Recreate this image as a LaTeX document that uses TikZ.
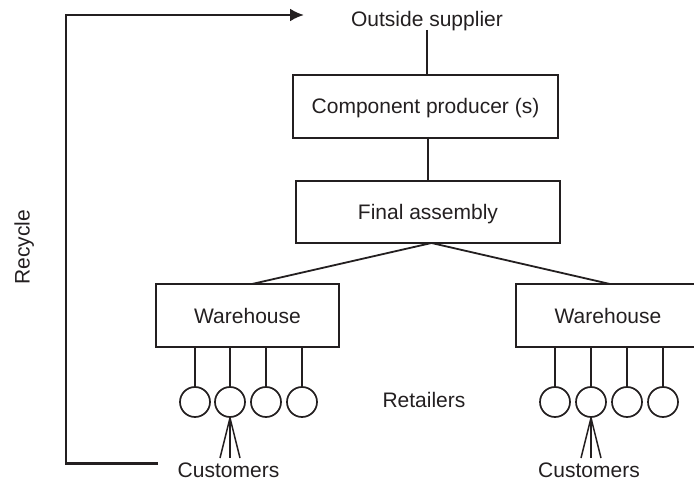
\documentclass[tikz,border=0pt]{standalone}
\usepackage{fontspec}
\setmainfont{Liberation Sans}
\usetikzlibrary{arrows.meta}
\definecolor{ink}{HTML}{231F20}
\begin{document}
\begin{tikzpicture}[x=1pt,y=-1pt,
  every node/.style={font=\fontsize{21}{25}\selectfont, text=ink, text height=15pt, text depth=0pt, inner sep=0pt},
  box/.style={draw=ink, line width=1.9pt, rectangle},
  conn/.style={draw=ink, line width=1.8pt},
  retail/.style={draw=ink, line width=1.7pt, circle, minimum size=30pt, text height=0pt},
  recy/.style={draw=ink, line width=2.5pt, -{Latex[length=14pt,width=13pt]}}
]
\useasboundingbox (0,0) rectangle (694,484);
\clip (0,0) rectangle (694,484);
\node (sup) at (427,19.5) {Outside supplier};
\node[box, minimum width=265pt, minimum height=63pt] (comp) at (425.5,106.5) {Component producer (s)};
\node[box, minimum width=264pt, minimum height=62pt] (fin) at (428,212) {Final assembly};
\node[box, minimum width=183pt, minimum height=63pt] (wh1) at (247.5,315.5) {Warehouse};
\node[box, minimum width=184pt, minimum height=63pt] (wh2) at (608,315.5) {Warehouse};
\node (ret) at (424,400) {Retailers};
\node (cu1) at (228.5,470) {Customers};
\node (cu2) at (589,470) {Customers};
\node[rotate=90] (rec) at (22,247) {Recycle};

\foreach \i/\x in {1/195,2/230,3/266,4/302} {
  \node[retail] (a\i) at (\x,402) {};
  \draw[conn] (a\i.north |- wh1.south) -- (a\i.north);
}
\foreach \i/\x in {1/555,2/591,3/627,4/663} {
  \node[retail] (b\i) at (\x,402) {};
  \draw[conn] (b\i.north |- wh2.south) -- (b\i.north);
}

\draw[conn] (sup.south |- 0,30) -- (sup.south |- comp.north);
\draw[conn] (428,137) -- (fin.north);
\coordinate (fb) at (431.5,243);
\draw[conn] (fb) -- (252,284);
\draw[conn] (fb) -- (610,284);

\foreach \d in {-10,0,10} {
  \draw[ink, line width=1.5pt] (a2.south) -- ([xshift=\d pt]a2.south |- 0,458);
  \draw[ink, line width=1.5pt] (b2.south) -- ([xshift=\d pt]b2.south |- 0,458);
}

\coordinate (r0) at (158,463.5);
\coordinate (r1) at (66,463.5);
\coordinate (r2) at (66,15);
\coordinate (r3) at (304,15);
\draw[recy] (r0) -- (r1) -- (r2) -- (r3);
\end{tikzpicture}
\end{document}
